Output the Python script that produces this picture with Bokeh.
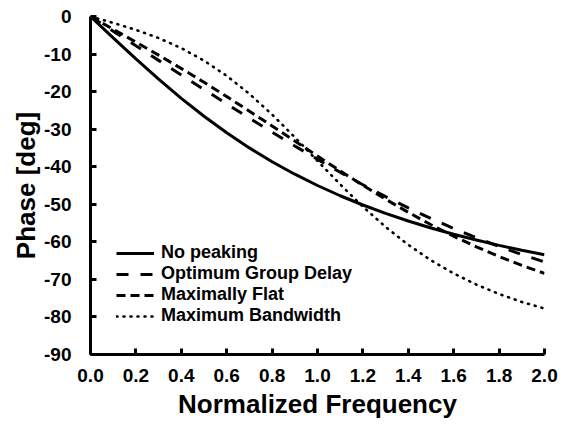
from bokeh.plotting import figure
from bokeh.models import Legend, LegendItem, FixedTicker
from bokeh.embed import file_html
from bokeh.resources import INLINE

# Normalized frequency
freq = [0.0, 0.1, 0.2, 0.3, 0.4, 0.5, 0.6, 0.7, 0.8, 0.9, 1.0,
        1.1, 1.2, 1.3, 1.4, 1.5, 1.6, 1.7, 1.8, 1.9, 2.0]

# Phase [deg] for each curve
no_peaking = [0.0, -5.71, -11.31, -16.70, -21.80, -26.57, -30.96, -34.99, -38.66, -41.99, -45.00,
              -47.73, -50.19, -52.43, -54.46, -56.31, -57.99, -59.53, -60.95, -62.24, -63.43]
optimum_group_delay = [0.0, -3.90, -7.79, -11.68, -15.56, -19.43, -23.27, -27.07, -30.81, -34.47, -38.03,
                       -41.49, -44.80, -47.96, -50.96, -53.79, -56.44, -58.93, -61.23, -63.37, -65.35]
maximally_flat = [0.0, -3.39, -6.81, -10.29, -13.85, -17.53, -21.32, -25.21, -29.16, -33.17, -37.17,
                  -41.12, -44.95, -48.65, -52.15, -55.45, -58.52, -61.33, -63.91, -66.26, -68.39]
maximum_bandwidth = [0.0, -1.69, -3.55, -5.74, -8.43, -11.75, -15.80, -20.60, -26.10, -32.15, -38.46,
                     -44.71, -50.64, -56.03, -60.80, -64.92, -68.42, -71.39, -73.89, -76.00, -77.76]

series_labels = ["No peaking", "Optimum Group Delay", "Maximally Flat", "Maximum Bandwidth"]

x_ticks = [0.0, 0.2, 0.4, 0.6, 0.8, 1.0, 1.2, 1.4, 1.6, 1.8, 2.0]
y_ticks = [0, -10, -20, -30, -40, -50, -60, -70, -80, -90]

FONT = "Liberation Sans"

p = figure(width=560, height=421, x_range=(0, 2.0), y_range=(-90, 0),
           output_backend="svg", toolbar_location=None,
           min_border_left=90, min_border_right=16, min_border_top=16, min_border_bottom=66)

p.xgrid.visible = False
p.ygrid.visible = False
p.outline_line_color = None
p.background_fill_color = "white"
p.border_fill_color = "white"

r1 = p.line(freq, no_peaking, line_color="black", line_width=3)
r2 = p.line(freq, optimum_group_delay, line_color="black", line_width=3, line_dash="12 12")
r3 = p.line(freq, maximally_flat, line_color="black", line_width=3, line_dash="9 5")
r4 = p.line(freq, maximum_bandwidth, line_color="black", line_width=2.6, line_dash="1 6",
            line_cap="round")

for ax in (p.xaxis[0], p.yaxis[0]):
    ax.axis_line_color = "black"
    ax.axis_line_width = 3
    ax.major_tick_line_color = "black"
    ax.major_tick_line_width = 3
    ax.major_tick_in = 6
    ax.major_tick_out = 0
    ax.minor_tick_line_color = None
    ax.major_label_text_font = FONT
    ax.major_label_text_font_style = "bold"
    ax.major_label_text_font_size = "19px"
    ax.major_label_text_color = "black"
    ax.axis_label_text_font = FONT
    ax.axis_label_text_font_style = "bold"
    ax.axis_label_text_font_size = "26px"
    ax.axis_label_text_color = "black"

p.xaxis.ticker = FixedTicker(ticks=x_ticks)
p.yaxis.ticker = FixedTicker(ticks=y_ticks)
p.xaxis.major_label_overrides = {t: f"{t:.1f}" for t in x_ticks}
p.yaxis.major_label_overrides = {t: f"{t:d}" for t in y_ticks}
p.xaxis.axis_label = "Normalized Frequency"
p.yaxis.axis_label = "Phase [deg]"
p.xaxis.major_label_standoff = 14
p.yaxis.major_label_standoff = 19
p.xaxis.axis_label_standoff = 4
p.yaxis.axis_label_standoff = 0

legend = Legend(items=[LegendItem(label=series_labels[0], renderers=[r1]),
                       LegendItem(label=series_labels[1], renderers=[r2]),
                       LegendItem(label=series_labels[2], renderers=[r3]),
                       LegendItem(label=series_labels[3], renderers=[r4])],
                location=(26, 28), orientation="vertical",
                glyph_width=38, glyph_height=18, label_height=18, spacing=-1,
                padding=0, margin=0, label_standoff=7,
                border_line_color=None, background_fill_alpha=0,
                label_text_font=FONT, label_text_font_style="bold",
                label_text_font_size="18px", label_text_color="black")
p.add_layout(legend, "center")

open("out.html", "w").write(file_html(p, INLINE))
